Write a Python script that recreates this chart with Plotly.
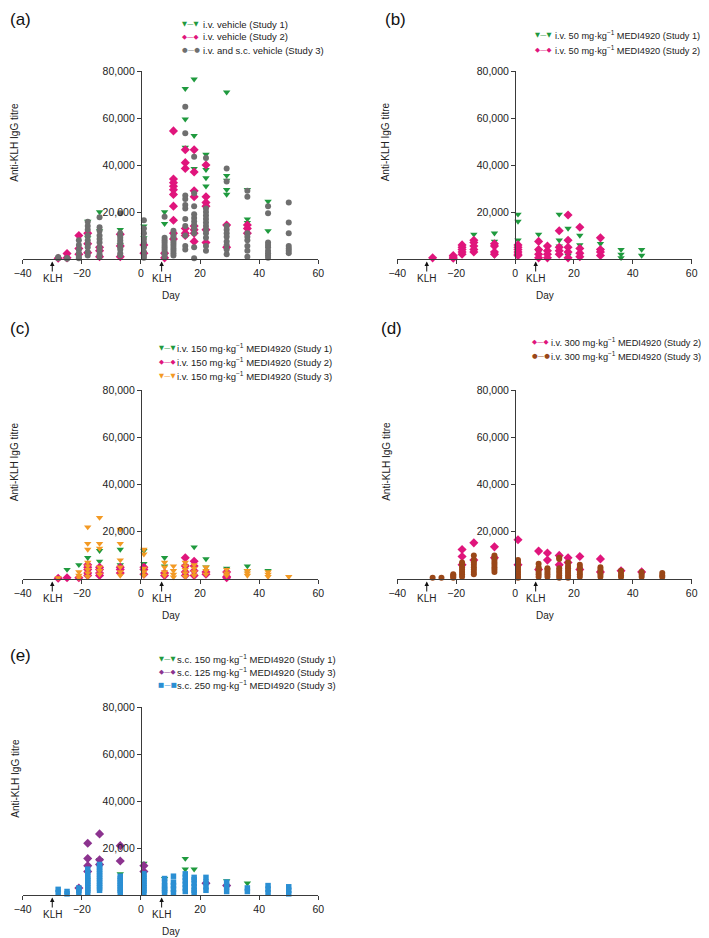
import plotly.graph_objects as go

# The page body has an 8 px margin, so the figure is placed 8 px in from the
# window's top-left corner; positions below are given in window pixels.
OFF = 8
W, H = 709 - OFF, 938 - OFF


def px(x):
    return max(x - OFF, 0) / W


def py(y):
    return 1 - (y - OFF) / H


# ---------------- data (day -> list of anti-KLH IgG titres) ----------------
x_ticks = [-40, -20, 0, 20, 40, 60]
y_ticks = [20000, 40000, 60000, 80000]
klh_days = [-30, 7]

# (a) vehicle
a_study1 = {-18: [16000, 9000], -14: [20000, 12000], -7: [12500, 6000], 1: [14000, 9000],
            8: [20000, 15000], 15: [72500, 59500, 47500], 18: [76500, 52500, 38500],
            22: [44500, 38000, 34500, 31000], 29: [71000, 35500, 33500, 29500, 27500],
            36: [29500, 17000, 15500], 43: [24500, 12000]}
a_study2 = {-28: [300], -25: [2300, 500], -21: [10000, 4500, 2000], -18: [11000, 6500, 2700],
            -14: [5000, 3500, 1000], -7: [10500, 5500, 1000], 1: [6000, 2500], 8: [500, 2500],
            11: [54500, 34000, 32500, 31000, 29500, 27500, 22500, 16500, 11000, 8500],
            15: [46500, 41000, 38500, 13000, 11000, 10000],
            18: [46500, 37000, 29000, 26500, 14000, 12500, 11000, 7500],
            22: [40000, 26500, 24000, 22500, 12500, 7000], 29: [14500, 5000],
            36: [14500, 13000, 11000]}
a_study3 = {-28: [300, 800], -25: [100, 400],
            -21: [8000, 6000, 4000, 2500, 1000, 300],
            -18: [15800, 14000, 12500, 10000, 8000, 6500, 5000, 3000, 1500],
            -14: [17800, 13500, 12000, 10000, 8500, 7000, 5000, 3500, 2000, 1000],
            -7: [19500, 11000, 10000, 9000, 8000, 7000, 6000, 5000, 4000, 2500, 1500],
            1: [16500, 13000, 11000, 8500, 7000, 5000, 3000, 1500, 500],
            8: [18000, 9000, 8000, 7000, 6000, 5000, 4000, 3000, 2000, 1000],
            11: [12000, 10000, 9000, 7500, 6500, 5500, 4500, 3500, 2500, 1500],
            15: [64800, 53500, 27000, 25500, 23000, 21500, 17000, 14000, 10000, 5500, 4000],
            18: [43500, 28000, 22500, 19000, 17500, 16000, 14500, 13000, 11000, 5000, 300],
            22: [43000, 21500, 20000, 18500, 17000, 15500, 14000, 12500, 11000, 9000, 5500, 3500],
            29: [38500, 33000, 14000, 12500, 11000, 9500, 7500, 6000, 4000, 2000],
            36: [29000, 26500, 11000, 9500, 8000, 5500, 3500, 1000],
            43: [22500, 19500, 7000, 6000, 5000, 3500, 2500, 1500, 500],
            50: [24000, 15500, 11000, 5500, 4500, 3500, 2500]}

# (b) i.v. 50 mg/kg
b_study1 = {-14: [10500, 7500], -7: [11000, 7500, 1500], 1: [19000, 16000, 8000, 1000],
            8: [10500, 3000], 15: [19000, 8000, 5500], 18: [13000, 1500],
            22: [10000, 6000], 29: [6500, 4000], 36: [4000, 2000, 500], 43: [4000, 1500]}
b_study2 = {-28: [500], -21: [1500, 800, 300], -18: [6000, 5000, 4000, 3000, 2000],
            -14: [8000, 7000, 5500, 4000, 3000], -7: [6500, 5500, 3000, 2000],
            1: [6000, 5000, 4000, 3000, 2000, 1500], 8: [7500, 4000, 2000, 500],
            11: [5500, 3500, 2000, 500], 15: [12000, 5000, 3500, 2000],
            18: [18700, 8000, 5000, 3000, 500], 22: [13500, 4500, 2500, 1000],
            29: [9000, 4000, 3000, 1500]}

# (c) i.v. 150 mg/kg
c_study1 = {-25: [4000], -21: [6000], -18: [9000], -14: [12000, 7500], -7: [12500, 6000],
            1: [12000, 6500], 8: [9000, 5500], 15: [5500], 18: [13500, 5000],
            22: [8500, 5000], 29: [4500], 36: [5500, 3500], 43: [3500]}
c_study2 = {-28: [300], -25: [500], -21: [500], -18: [6000, 5000, 4000, 2500, 1500],
            -14: [5000, 4000, 2500, 1500], -7: [5000, 4000, 2500], 1: [5000, 4000, 2000],
            8: [2500, 1500], 15: [9000, 5500, 3000, 1500], 18: [7500, 5500, 3500, 1500],
            22: [3000, 2000], 29: [3000, 1000, 500]}
c_study3 = {-28: [500], -21: [3000, 1500, 500],
            -18: [22000, 15000, 12500, 7000, 5500, 4000, 2500, 1000],
            -14: [26000, 15000, 13000, 5000, 3500, 2000],
            -7: [21000, 15000, 8000, 5000, 3000, 1500],
            1: [12500, 10500, 4500, 3000, 1500], 8: [7000, 5000, 3000, 1500],
            11: [5500, 3500, 2000, 800], 15: [7000, 5500, 4000, 2500, 1000],
            18: [6000, 4500, 3000, 1500], 22: [5000, 3500, 2000], 29: [4000, 2500, 1500],
            36: [3500, 2500, 1500], 43: [3000, 2000, 1000], 50: [1000]}

# (d) i.v. 300 mg/kg
d_study2 = {-18: [12500, 9500, 6000], -14: [15300, 8000], -7: [13600, 9000], 1: [16600, 6000],
            8: [11800, 4000], 11: [11000, 8000], 15: [10000, 6000], 18: [9000, 7000],
            22: [9500, 4000], 29: [8500, 3000], 36: [3500], 43: [3000]}
d_study3 = {-28: [500], -25: [500], -21: [2000, 1500, 1000, 500],
            -18: [7000, 6000, 5000, 4000, 3000, 2000, 1000],
            -14: [10000, 8000, 7000, 6000, 5000, 4000, 3000, 2000],
            -7: [10000, 9000, 8000, 7000, 6000, 5000, 4000, 3000],
            1: [8000, 7000, 6000, 5000, 4000, 3000, 2000, 1000, 500],
            8: [6500, 5000, 4000, 3000, 2000, 1000], 11: [4500, 4000, 3000, 2000, 1000],
            15: [9000, 8500, 4500, 3500, 2500, 1500, 500],
            18: [7000, 5500, 4500, 3500, 2500, 1500, 500],
            22: [6000, 5000, 4000, 3000, 2000, 1000], 29: [5000, 4000, 3000, 2000, 1000],
            36: [3500, 2500, 1500, 800], 43: [3000, 2000, 1000], 50: [2500, 1500, 800]}

# (e) s.c.
e_study1 = {-14: [15000], -7: [9000], 1: [13500], 8: [7000], 15: [15500, 11000],
            18: [11000], 29: [6000], 36: [5000]}
e_study3_125 = {-21: [3000], -18: [22000, 15500, 12500, 10000], -14: [26000, 15000, 13000],
                -7: [21000, 14500], 1: [12500, 10000], 22: [5000], 29: [4000]}
e_study3_250 = {-28: [2400, 1000], -25: [1500, 500], -21: [3000, 2000, 1000],
                -18: [11000, 9500, 8000, 7000, 6000, 5000, 4000, 3000, 2000, 1000],
                -14: [13000, 12000, 11000, 10000, 9000, 8000, 7000, 6000, 5000, 4000, 3000, 2000],
                -7: [8000, 7000, 6000, 5000, 4000, 3000, 2000, 1000],
                1: [9000, 8000, 7000, 6000, 5000, 4000, 3000, 2000, 1000],
                8: [7000, 5500, 4000, 3000, 2000, 1000], 11: [8000, 5500, 4000, 2500, 1000],
                15: [9000, 7500, 6000, 4500, 3000, 1500], 18: [7500, 6500, 5000, 3500, 2000, 1000],
                22: [7500, 5500, 3500, 2000], 29: [5500, 3500, 1500], 36: [3000, 1500],
                43: [4000, 2500, 1000], 50: [3500, 2000, 500]}

# ---------------- styles ----------------
GREEN = "#1f9a3e"
PINK = "#e0157c"
GREY = "#6f6f6f"
ORANGE = "#f39a24"
BROWN = "#9a4718"
PURPLE = "#8c338f"
BLUE = "#2b8fd3"

SYM = {"tri": ("triangle-down", "▼—▼", 6.5), "dia": ("diamond", "◆—◆", 7),
       "cir": ("circle", "●—●", 6), "sq": ("square", "■—■", 5.5)}

MG = "mg·kg<sup>−1</sup>"
panels = [
    dict(label="(a)", xr=(22.7, 318.3), yr=(71, 259), lab=(2, 8),
         leg=(184, 198, 201, [24, 37, 50]), fs=9.5,
         series=[(a_study1, GREEN, "tri", "i.v. vehicle (Study 1)"),
                 (a_study2, PINK, "dia", "i.v. vehicle (Study 2)"),
                 (a_study3, GREY, "cir", "i.v. and s.c. vehicle (Study 3)")]),
    dict(label="(b)", xr=(397.3, 691.7), yr=(71, 259), lab=(383, 8),
         leg=(535.7, 550.7, 553.3, [35, 50]), fs=9.2,
         series=[(b_study1, GREEN, "tri", f"i.v. 50 {MG} MEDI4920 (Study 1)"),
                 (b_study2, PINK, "dia", f"i.v. 50 {MG} MEDI4920 (Study 2)")]),
    dict(label="(c)", xr=(22.7, 318.3), yr=(390, 579), lab=(2, 317),
         leg=(161, 174, 175, [348, 362, 376]), fs=9.5,
         series=[(c_study1, GREEN, "tri", f"i.v. 150 {MG} MEDI4920 (Study 1)"),
                 (c_study2, PINK, "dia", f"i.v. 150 {MG} MEDI4920 (Study 2)"),
                 (c_study3, ORANGE, "tri", f"i.v. 150 {MG} MEDI4920 (Study 3)")]),
    dict(label="(d)", xr=(397.3, 691.7), yr=(390, 579), lab=(379, 317),
         leg=(534, 547.3, 549, [342, 356]), fs=9.2,
         series=[(d_study2, PINK, "dia", f"i.v. 300 {MG} MEDI4920 (Study 2)"),
                 (d_study3, BROWN, "cir", f"i.v. 300 {MG} MEDI4920 (Study 3)")]),
    dict(label="(e)", xr=(22.7, 318.3), yr=(707, 895), lab=(2, 644),
         leg=(161, 174, 175, [659, 672, 685]), fs=9.5,
         series=[(e_study1, GREEN, "tri", f"s.c. 150 {MG} MEDI4920 (Study 1)"),
                 (e_study3_125, PURPLE, "dia", f"s.c. 125 {MG} MEDI4920 (Study 3)"),
                 (e_study3_250, BLUE, "sq", f"s.c. 250 {MG} MEDI4920 (Study 3)")]),
]

FONT = "Arial, 'Liberation Sans', Helvetica, sans-serif"
AXC = "#3a3a3a"
TXT = "#222222"

fig = go.Figure()
annotations = []
layout = dict(width=W, height=H, autosize=False, margin=dict(l=0, r=0, t=0, b=0, pad=0),
              paper_bgcolor="white", plot_bgcolor="white", showlegend=False,
              font=dict(family=FONT, size=10, color=TXT))

for i, p in enumerate(panels, start=1):
    xs = "" if i == 1 else str(i)
    xd = [px(p["xr"][0]), px(p["xr"][1])]
    yd = [py(p["yr"][1]), py(p["yr"][0])]
    zero_pos = xd[0] + (0 - (-40)) / 100 * (xd[1] - xd[0])
    layout["xaxis" + xs] = dict(domain=xd, anchor="y" + xs, range=[-40, 60], automargin=False,
                                tickvals=x_ticks, ticks="outside", ticklen=4,
                                tickcolor=AXC, showline=True, linecolor=AXC, linewidth=1.2,
                                showgrid=False, zeroline=False,
                                tickfont=dict(size=10.5, color=TXT))
    layout["yaxis" + xs] = dict(domain=yd, anchor="free", position=zero_pos, range=[0, 80000],
                                automargin=False,
                                tickvals=y_ticks, tickformat=",d", ticks="outside", ticklen=4,
                                tickcolor=AXC, showline=True, linecolor=AXC, linewidth=1.2,
                                showgrid=False, zeroline=False,
                                tickfont=dict(size=10.5, color=TXT))
    for data, color, sk, name in p["series"]:
        sym, glyph, size = SYM[sk]
        xv, yv = [], []
        for d, vals in data.items():
            for v in vals:
                xv.append(d)
                yv.append(v)
        fig.add_trace(go.Scatter(x=xv, y=yv, mode="markers", name=name,
                                 xaxis="x" + xs, yaxis="y" + xs, cliponaxis=False,
                                 marker=dict(symbol=sym, size=size, color=color,
                                             line=dict(width=0))))
    # legend (drawn as text)
    s0, s1, t0, ys = p["leg"]
    for (data, color, sk, name), ly in zip(p["series"], ys):
        sym, glyph, size = SYM[sk]
        annotations.append(dict(x=px((s0 + s1) / 2), y=py(ly), xref="paper", yref="paper",
                                text=glyph, showarrow=False, xanchor="center", yanchor="middle",
                                font=dict(size=6.5, color=color, family="DejaVu Sans")))
        annotations.append(dict(x=px(t0), y=py(ly), xref="paper", yref="paper",
                                text=name, showarrow=False, xanchor="left", yanchor="middle",
                                font=dict(size=p["fs"], color=TXT)))
    # panel label
    annotations.append(dict(x=px(p["lab"][0]), y=py(p["lab"][1]), xref="paper", yref="paper",
                            text=p["label"], showarrow=False, xanchor="left", yanchor="top",
                            font=dict(size=17, color="#111")))
    # axis titles
    annotations.append(dict(x=px((p["xr"][0] + p["xr"][1]) / 2), y=py(p["yr"][1] + 36),
                            xref="paper", yref="paper", text="Day", showarrow=False,
                            xanchor="center", yanchor="middle", font=dict(size=10, color=TXT)))
    annotations.append(dict(x=px(p["xr"][0] - 8 if i % 2 == 1 else p["xr"][0] - 11),
                            y=py((p["yr"][0] + p["yr"][1]) / 2 - 23),
                            xref="paper", yref="paper", text="Anti-KLH IgG titre",
                            showarrow=False, textangle=-90, xanchor="center", yanchor="middle",
                            font=dict(size=10, color=TXT)))
    # KLH immunisation arrows
    for kd in klh_days:
        annotations.append(dict(x=kd, y=py(p["yr"][1] + 2.5), xref="x" + xs, yref="paper",
                                text="KLH", showarrow=True, arrowhead=2, arrowsize=0.9,
                                arrowwidth=1, arrowcolor="#111", ax=0, ay=17, standoff=0,
                                font=dict(size=10, color=TXT)))

layout["annotations"] = annotations
fig.update_layout(**layout)
fig.write_html("out.html")
